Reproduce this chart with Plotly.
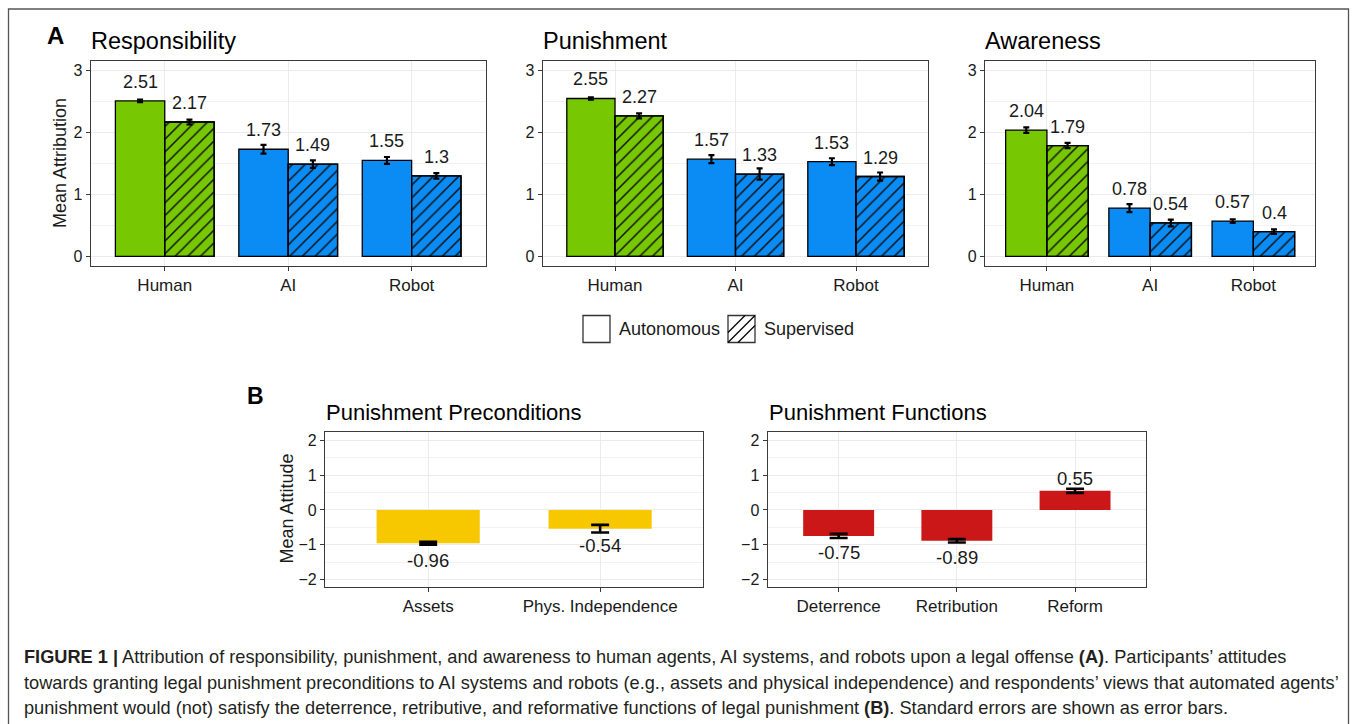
import plotly.graph_objects as go

# ---------------- data ----------------
agents = ["Human", "AI", "Robot"]
panel_titles_A = ["Responsibility", "Punishment", "Awareness"]

resp_auto = [2.51, 1.73, 1.55]
resp_sup = [2.17, 1.49, 1.30]
resp_auto_se = [0.02, 0.07, 0.055]
resp_sup_se = [0.04, 0.06, 0.045]

pun_auto = [2.55, 1.57, 1.53]
pun_sup = [2.27, 1.33, 1.29]
pun_auto_se = [0.02, 0.065, 0.055]
pun_sup_se = [0.04, 0.09, 0.065]

aw_auto = [2.04, 0.78, 0.57]
aw_sup = [1.79, 0.54, 0.40]
aw_auto_se = [0.045, 0.065, 0.03]
aw_sup_se = [0.043, 0.055, 0.035]

agent_colors = ["#77C803", "#0B8BF4", "#0B8BF4"]

pre_cats = ["Assets", "Phys. Independence"]
pre_vals = [-0.96, -0.54]
pre_se = [0.04, 0.11]

fun_cats = ["Deterrence", "Retribution", "Reform"]
fun_vals = [-0.75, -0.89, 0.55]
fun_se = [0.06, 0.05, 0.06]

legend_labels = ["Autonomous", "Supervised"]

# ---------------- layout helpers ----------------
W, H = 1355, 724
def px(x):
    return x / W
def py(y):
    return 1 - y / H

FONT = "Liberation Sans, Arial, sans-serif"
TXT = "#1a1a1a"
GRID = "#EBEBEB"
BORDER = "#3a3a3a"

fig = go.Figure()

A_xdom = [(90.7, 485.7), (542.7, 928.3), (985.0, 1315.3)]
A_ydom = (60.7, 265.7)
B_xdom = [(325.0, 703.3), (767.7, 1146.0)]
B_ydom = (431.7, 586.7)

A_data = [
    (resp_auto, resp_sup, resp_auto_se, resp_sup_se),
    (pun_auto, pun_sup, pun_auto_se, pun_sup_se),
    (aw_auto, aw_sup, aw_auto_se, aw_sup_se),
]

annotations = []
layout_axes = {}

def fmt(v):
    return f"{v:g}"

def axis_common(dom, is_x):
    return dict(
        domain=[px(dom[0]), px(dom[1])] if is_x else [py(dom[1]), py(dom[0])],
        showline=True, mirror=True, linecolor=BORDER, linewidth=1.3,
        ticks="outside", ticklen=4, tickcolor=BORDER, tickwidth=1,
        showgrid=True, gridcolor=GRID, gridwidth=1,
        zeroline=False, fixedrange=True,
    )

# Panel A
for k in range(3):
    xa = "x" if k == 0 else f"x{k+1}"
    ya = "y" if k == 0 else f"y{k+1}"
    auto, sup, auto_se, sup_se = A_data[k]
    fig.add_trace(go.Bar(
        x=agents, y=auto, xaxis=xa, yaxis=ya, name=legend_labels[0], offsetgroup="auto",
        marker=dict(color=agent_colors, line=dict(color="black", width=1.3)),
        error_y=dict(type="data", array=auto_se, color="black", thickness=2.2, width=3),
        showlegend=False, hoverinfo="skip",
    ))
    fig.add_trace(go.Bar(
        x=agents, y=sup, xaxis=xa, yaxis=ya, name=legend_labels[1], offsetgroup="sup",
        marker=dict(color=agent_colors, line=dict(color="black", width=1.3)),
        showlegend=False, hoverinfo="skip",
    ))
    # hatch layer for supervised bars
    fig.add_trace(go.Bar(
        x=agents, y=sup, xaxis=xa, yaxis=ya, name=legend_labels[1], offsetgroup="sup",
        marker=dict(color="rgba(0,0,0,0)", line=dict(color="black", width=1.3),
                    pattern=dict(shape="/", fgcolor="#111111", bgcolor="rgba(0,0,0,0)",
                                 size=9, solidity=0.17, fillmode="replace")),
        error_y=dict(type="data", array=sup_se, color="black", thickness=2.2, width=3),
        showlegend=False, hoverinfo="skip",
    ))
    xkey = "xaxis" if k == 0 else f"xaxis{k+1}"
    ykey = "yaxis" if k == 0 else f"yaxis{k+1}"
    xd = axis_common(A_xdom[k], True)
    xd.update(anchor=ya, type="category", range=[-0.6, 2.6],
              tickfont=dict(size=17, color=TXT, family=FONT))
    yd = axis_common(A_ydom, False)
    yd.update(anchor=xa, range=[-0.15, 3.16], tickvals=[0, 1, 2, 3],
              tickfont=dict(size=16, color=TXT, family=FONT),
              minor=dict(tickvals=[0.5, 1.5, 2.5], showgrid=True, gridcolor="#F2F2F2",
                         gridwidth=0.8, ticks=""))
    layout_axes[xkey] = xd
    layout_axes[ykey] = yd
    for i in range(3):
        annotations.append(dict(x=i - 0.2, y=auto[i], xref=xa, yref=ya, text=fmt(auto[i]),
                                showarrow=False, yshift=19, yanchor="middle",
                                font=dict(size=18, color=TXT, family=FONT)))
        annotations.append(dict(x=i + 0.2, y=sup[i], xref=xa, yref=ya, text=fmt(sup[i]),
                                showarrow=False, yshift=19, yanchor="middle",
                                font=dict(size=18, color=TXT, family=FONT)))
    annotations.append(dict(x=px(A_xdom[k][0] - 2), y=py(40.5), xref="paper", yref="paper",
                            text=panel_titles_A[k], showarrow=False, xanchor="left",
                            yanchor="middle", font=dict(size=23.5, color="black", family=FONT)))

# Panel B
B_sets = [
    (pre_cats, pre_vals, pre_se, "#F7C700", "Punishment Preconditions"),
    (fun_cats, fun_vals, fun_se, "#CC1719", "Punishment Functions"),
]
for j, (cats, vals, se, col, title) in enumerate(B_sets):
    n = 4 + j
    xa, ya = f"x{n}", f"y{n}"
    fig.add_trace(go.Bar(
        x=cats, y=vals, xaxis=xa, yaxis=ya, width=0.6,
        marker=dict(color=col, line=dict(width=0)),
        error_y=dict(type="data", array=se, color="black", thickness=2.6, width=9),
        showlegend=False, hoverinfo="skip",
    ))
    xd = axis_common(B_xdom[j], True)
    xd.update(anchor=ya, type="category", range=[-0.6, len(cats) - 0.4],
              tickfont=dict(size=17, color=TXT, family=FONT))
    yd = axis_common(B_ydom, False)
    yd.update(anchor=xa, range=[-2.21, 2.25], tickvals=[-2, -1, 0, 1, 2],
              tickfont=dict(size=16, color=TXT, family=FONT),
              minor=dict(tickvals=[-1.5, -0.5, 0.5, 1.5], showgrid=True, gridcolor="#F2F2F2",
                         gridwidth=0.8, ticks=""))
    layout_axes[f"xaxis{n}"] = xd
    layout_axes[f"yaxis{n}"] = yd
    for i, v in enumerate(vals):
        annotations.append(dict(x=i, y=v, xref=xa, yref=ya, text=fmt(v), showarrow=False,
                                yshift=(-17 if v < 0 else 12), yanchor="middle",
                                font=dict(size=18.5, color=TXT, family=FONT)))
    annotations.append(dict(x=px(B_xdom[j][0] - 1), y=py(412), xref="paper", yref="paper",
                            text=title, showarrow=False, xanchor="left", yanchor="middle",
                            font=dict(size=22, color="black", family=FONT)))

# panel letters
annotations.append(dict(x=px(45), y=py(35.5), xref="paper", yref="paper", text="<b>A</b>",
                        showarrow=False, xanchor="left", yanchor="middle",
                        font=dict(size=24, color="black", family=FONT)))
annotations.append(dict(x=px(245.5), y=py(396), xref="paper", yref="paper", text="<b>B</b>",
                        showarrow=False, xanchor="left", yanchor="middle",
                        font=dict(size=23, color="black", family=FONT)))

# y axis titles
annotations.append(dict(x=px(60), y=py(163), xref="paper", yref="paper", text="Mean Attribution",
                        showarrow=False, textangle=-90, xanchor="center", yanchor="middle",
                        font=dict(size=18, color=TXT, family=FONT)))
annotations.append(dict(x=px(286.5), y=py(509), xref="paper", yref="paper", text="Mean Attitude",
                        showarrow=False, textangle=-90, xanchor="center", yanchor="middle",
                        font=dict(size=18, color=TXT, family=FONT)))

# legend (drawn manually)
shapes = []
box = 27
lx = [583, 728]
ly0 = 315.5
for b, x0 in enumerate(lx):
    shapes.append(dict(type="rect", xref="paper", yref="paper",
                       x0=px(x0), x1=px(x0 + box), y0=py(ly0 + box), y1=py(ly0),
                       line=dict(color="#333333", width=1.3), fillcolor="white"))
    annotations.append(dict(x=px(x0 + box + 7), y=py(ly0 + box / 2), xref="paper", yref="paper",
                            text=legend_labels[b], showarrow=False, xanchor="left",
                            yanchor="middle", font=dict(size=18, color=TXT, family=FONT)))
# hatch in supervised legend key
x0, y0, s, d = lx[1], ly0, box, 10
for (ax0, ay0, ax1, ay1) in [(x0, y0 + s, x0 + s, y0),
                             (x0, y0 + s - d, x0 + s - d, y0),
                             (x0 + d, y0 + s, x0 + s, y0 + d)]:
    shapes.append(dict(type="line", xref="paper", yref="paper",
                       x0=px(ax0), y0=py(ay0), x1=px(ax1), y1=py(ay1),
                       line=dict(color="black", width=1.2)))

# outer frame
shapes.append(dict(type="rect", xref="paper", yref="paper", x0=px(8.5), x1=px(1348.5),
                   y0=py(740), y1=py(9), line=dict(color="#555555", width=1.3),
                   fillcolor="rgba(0,0,0,0)", layer="below"))

# caption
caption_lines = [
    "<b>FIGURE 1 |</b> Attribution of responsibility, punishment, and awareness to human agents, AI systems, and robots upon a legal offense <b>(A)</b>. Participants\u2019 attitudes",
    "towards granting legal punishment preconditions to AI systems and robots (e.g., assets and physical independence) and respondents\u2019 views that automated agents\u2019",
    "punishment would (not) satisfy the deterrence, retributive, and reformative functions of legal punishment <b>(B)</b>. Standard errors are shown as error bars.",
]
cap_y = [657, 683, 708]
for line, yy in zip(caption_lines, cap_y):
    annotations.append(dict(x=px(22), y=py(yy), xref="paper", yref="paper", text=line,
                            showarrow=False, xanchor="left", yanchor="middle", align="left",
                            font=dict(size=18.2, color="#231F20", family=FONT)))

fig.update_layout(
    width=W, height=H, margin=dict(l=0, r=0, t=0, b=0),
    paper_bgcolor="white", plot_bgcolor="white",
    barmode="group", bargap=0.2, bargroupgap=0,
    showlegend=False, annotations=annotations, shapes=shapes,
    font=dict(family=FONT, color=TXT),
    **layout_axes,
)

fig.write_html("out.html", config={"displayModeBar": False},
               post_script="document.body.style.margin='0';document.body.style.padding='0';document.body.style.overflow='hidden';")
